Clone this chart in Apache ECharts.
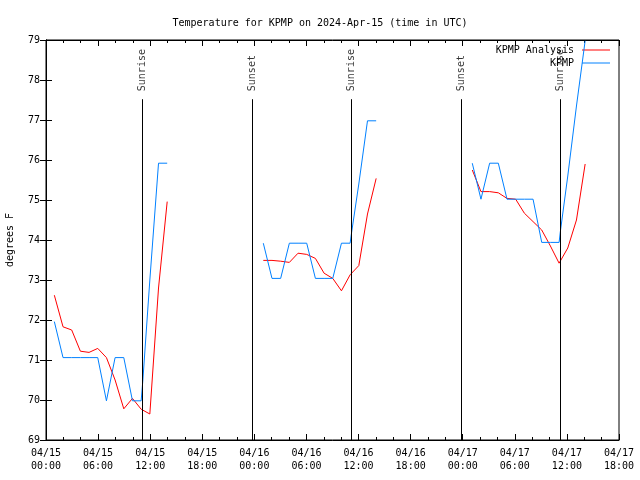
<!DOCTYPE html>
<html><head><meta charset="utf-8">
<script src="https://cdn.jsdelivr.net/npm/echarts@6/dist/echarts.min.js"></script>
<style>html,body{margin:0;padding:0;background:#fff}#c{width:640px;height:480px}</style>
</head><body><div id="c"></div>
<script>
// x values are hours since 2024-04-15 00:00 UTC
const tickLabels = ['04/15\n00:00','04/15\n06:00','04/15\n12:00','04/15\n18:00','04/16\n00:00','04/16\n06:00','04/16\n12:00','04/16\n18:00','04/17\n00:00','04/17\n06:00','04/17\n12:00','04/17\n18:00'];

const anaHours1 = [0.96,1.96,2.96,3.96,4.96,5.96,6.96,7.96,8.96,9.96,10.96,11.96,12.96,13.96];
const anaTemps1 = [72.62,71.83,71.75,71.22,71.19,71.29,71.06,70.5,69.78,70.04,69.77,69.65,72.8,74.96];
const anaHours2 = [25.03,26.03,27.03,28.03,29.03,30.03,31.03,32.03,33.03,34.03,35.03,36.03,37.03,38.03];
const anaTemps2 = [73.49,73.49,73.47,73.44,73.67,73.64,73.54,73.17,73.04,72.73,73.13,73.36,74.65,75.54];
const anaHours3 = [49.1,50.1,51.1,52.1,53.1,54.1,55.1,56.1,57.1,58.1,59.1,60.1,61.1,62.1];
const anaTemps3 = [75.75,75.21,75.21,75.18,75.04,75.02,74.67,74.46,74.25,73.85,73.42,73.8,74.5,75.9];

const obsHours1 = [0.96,1.96,2.96,3.96,4.96,5.96,6.96,7.96,8.96,9.96,10.96,11.16,11.96,12.96,13.96];
const obsTemps1 = [71.96,71.06,71.06,71.06,71.06,71.06,69.98,71.06,71.06,69.98,69.98,70.5,73.0,75.92,75.92];
const obsHours2 = [25.03,26.03,27.03,28.03,29.03,30.03,31.03,32.03,33.03,34.03,35.03,35.16,36.03,37.03,38.03];
const obsTemps2 = [73.92,73.04,73.04,73.92,73.92,73.92,73.04,73.04,73.04,73.92,73.92,74.13,75.4,76.98,76.98];
const obsHours3 = [49.1,50.1,51.1,52.1,53.1,54.1,55.1,56.1,57.1,58.1,59.1,59.24,60.1,61.1,62.1];
const obsTemps3 = [75.92,75.02,75.92,75.92,75.02,75.02,75.02,75.02,73.94,73.94,73.94,74.2,75.6,77.35,78.98];

const eventHours = [11.12,23.77,35.13,47.85,59.2];
const eventNames = ['Sunrise','Sunset','Sunrise','Sunset','Sunrise'];

function pairs(hs, vs){ return hs.map((h,i)=>[h, vs[i]]); }
function joinBlocks(blocks){
  let out = [];
  blocks.forEach((b,i)=>{ if(i>0) out.push([b[0][0]-0.5,'-']); out = out.concat(b); });
  return out;
}
const anaData = joinBlocks([pairs(anaHours1,anaTemps1),pairs(anaHours2,anaTemps2),pairs(anaHours3,anaTemps3)]);
const obsData = joinBlocks([pairs(obsHours1,obsTemps1),pairs(obsHours2,obsTemps2),pairs(obsHours3,obsTemps3)]);

const FONT = 'DejaVu Sans Mono';
const chart = echarts.init(document.getElementById('c'), null, {renderer:'canvas'});
const xCommon = {type:'value', min:0, max:66, interval:6,
  axisLine:{show:true, lineStyle:{color:'#000', width:1}},
  axisTick:{show:true, inside:true, length:6, lineStyle:{color:'#000'}},
  minorTick:{show:true, splitNumber:3, length:3, lineStyle:{color:'#000'}},
  splitLine:{show:false}, minorSplitLine:{show:false}};
const yCommon = {type:'value', min:69, max:79, interval:1,
  axisLine:{show:true, lineStyle:{color:'#000', width:1}},
  axisTick:{show:true, inside:true, length:6, lineStyle:{color:'#000'}},
  splitLine:{show:false}};
chart.setOption({
  animation:false,
  backgroundColor:'#fff',
  textStyle:{fontFamily:FONT},
  title:{text:'Temperature for KPMP on 2024-Apr-15 (time in UTC)', left:'center', top:13,
    textStyle:{fontFamily:FONT, fontSize:10, fontWeight:'normal', color:'#000'}},
  grid:{left:46, right:21, top:40, bottom:40, containLabel:false, outerBoundsMode:'none',
    show:true, borderColor:'#000', borderWidth:1},
  legend:{data:['KPMP Analysis','KPMP'], orient:'vertical', right:25, top:40, align:'right',
    itemWidth:28, itemHeight:10, itemGap:3, icon:'path://M0,5 L28,5 L28,6 L0,6 Z',
    textStyle:{fontFamily:FONT, fontSize:10, color:'#000', padding:[0,3,0,0]}},
  xAxis:[
    Object.assign({}, xCommon, {position:'bottom',
      axisLabel:{show:true, fontFamily:FONT, fontSize:10, color:'#000', lineHeight:13, margin:7,
        formatter:function(v){ return tickLabels[Math.round(v/6)]; }}}),
    Object.assign({}, xCommon, {position:'top', axisLabel:{show:false}})
  ],
  yAxis:[
    Object.assign({}, yCommon, {position:'left', name:'degrees F', nameLocation:'middle', nameGap:31, nameRotate:90,
      nameTextStyle:{fontFamily:FONT, fontSize:10, color:'#000'},
      axisLabel:{show:true, fontFamily:FONT, fontSize:10, color:'#000', margin:6}}),
    Object.assign({}, yCommon, {position:'right', axisLabel:{show:false}})
  ],
  series:[
    {name:'KPMP Analysis', type:'line', data:anaData, showSymbol:false, symbol:'none',
      lineStyle:{color:'#ff0000', width:1}, itemStyle:{color:'#ff0000'}, connectNulls:false, z:3},
    {name:'KPMP', type:'line', data:obsData, showSymbol:false, symbol:'none',
      lineStyle:{color:'#0080ff', width:1}, itemStyle:{color:'#0080ff'}, connectNulls:false, z:4},
    {name:'events', type:'scatter', symbolSize:0, silent:true, z:5,
      data:eventHours.map((h,i)=>({value:[h,77.72], name:eventNames[i]})),
      label:{show:true, formatter:'{b}', rotate:90, position:'inside', align:'left', verticalAlign:'middle',
        fontFamily:FONT, fontSize:10, color:'#000'},
      markLine:{silent:true, symbol:'none', label:{show:false}, animation:false,
        lineStyle:{color:'#000', width:1, type:'solid'},
        data:eventHours.map(h=>[{coord:[h,69]},{coord:[h,77.52]}])}}
  ]
});
</script></body></html>
